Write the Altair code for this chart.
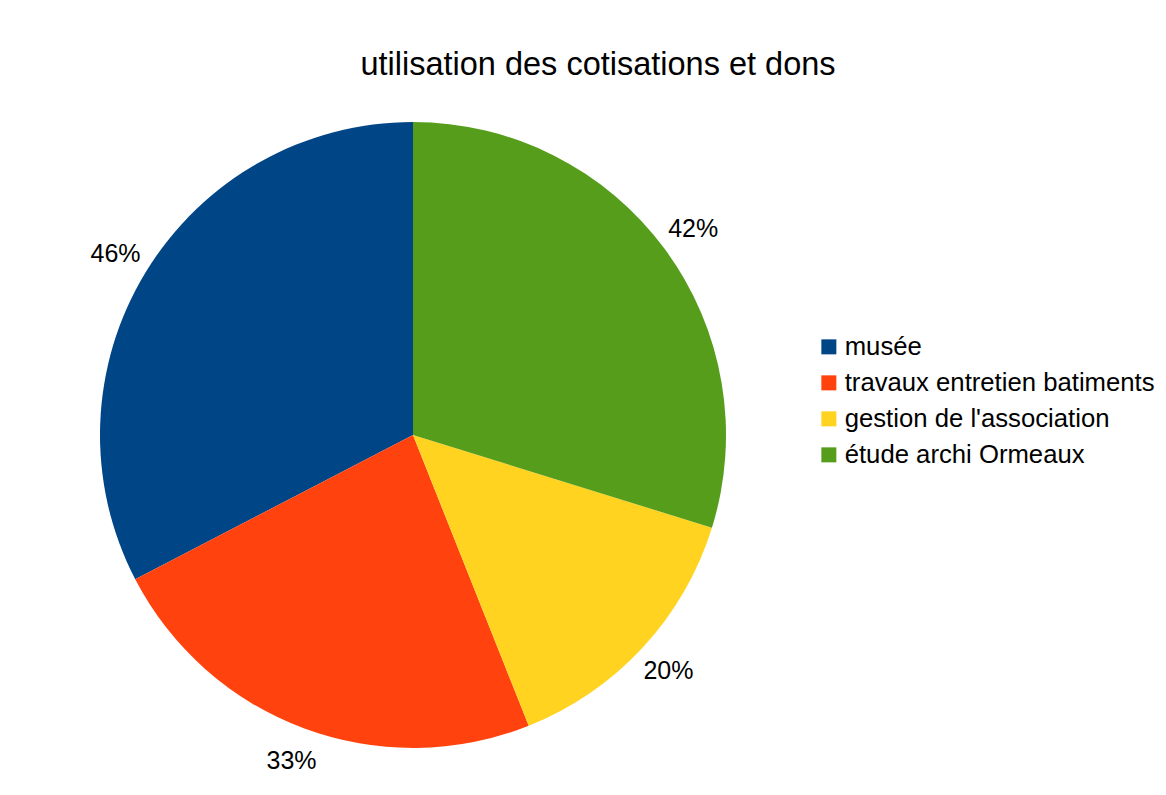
import altair as alt
import pandas as pd

categories = ["musée", "travaux entretien batiments", "gestion de l'association", "étude archi Ormeaux"]
values = [46, 33, 20, 42]
labels = ["46%", "33%", "20%", "42%"]
colors = ["#004586", "#ff420e", "#ffd320", "#579d1c"]

n = len(categories)
df = pd.DataFrame({
    "categorie": categories,
    "valeur": values,
    "etiquette": labels,
    "ordre": [n - 1 - i for i in range(n)],
})

FONT = "Liberation Sans"
W, H = 810, 668

base = alt.Chart(df).encode(
    theta=alt.Theta("valeur:Q", stack=True),
    order=alt.Order("ordre:Q"),
)

arcs = base.mark_arc(radius=313, stroke=None).encode(
    color=alt.Color(
        "categorie:N",
        scale=alt.Scale(domain=categories, range=colors),
        sort=categories,
        legend=alt.Legend(
            title=None,
            orient="none",
            legendX=808,
            legendY=233,
            symbolType="square",
            symbolSize=225,
            symbolStrokeWidth=0,
            labelFontSize=25.7,
            labelFont=FONT,
            labelColor="black",
            rowPadding=9,
            labelOffset=3,
            padding=0,
            labelLimit=0,
        ),
    )
)

texts = base.mark_text(radius=348, fontSize=25, font=FONT, color="black",
                       align="center", baseline="middle").encode(
    text="etiquette:N"
)

chart = alt.layer(arcs, texts).properties(
    width=W,
    height=H,
    padding={"left": 0, "right": 0, "top": 40, "bottom": 0},
    title=alt.Title(
        "utilisation des cotisations et dons",
        fontSize=32.5,
        font=FONT,
        fontWeight="normal",
        color="black",
        anchor="middle",
        frame="group",
        dx=185,
        offset=20,
    ),
    background="white",
).configure_view(stroke=None)

chart.save("out.html", embed_options={"renderer": "svg", "actions": False})
